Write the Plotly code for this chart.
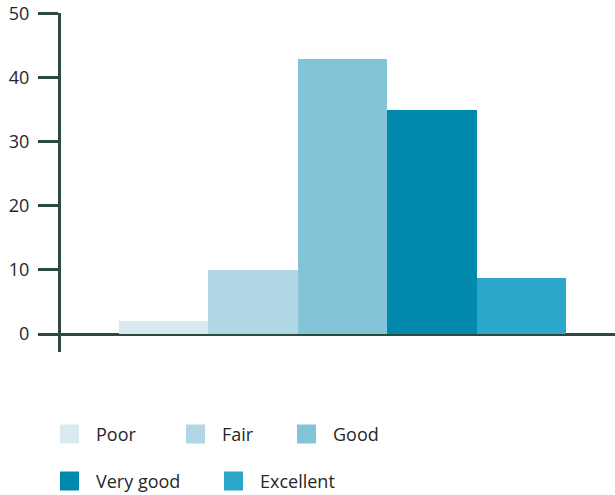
import plotly.graph_objects as go

categories = ["Poor", "Fair", "Good", "Very good", "Excellent"]
values = [2, 10, 43, 35, 8.8]
colors = ["#d9eaf2", "#b1d7e6", "#83c4d8", "#0089ad", "#2aa7c9"]
y_ticks = [0, 10, 20, 30, 40, 50]

AXIS = "#2c4a3f"
FONT = "Open Sans"

W, H = 615, 495
L, R, T, B = 61, 0, 13, 495 - 352
pw, ph = W - L - R, H - T - B

def px_x(px):
    return (px - L) / pw

def px_y(py):
    return (H - B - py) / ph

fig = go.Figure()
for i, (c, v, col) in enumerate(zip(categories, values, colors)):
    fig.add_trace(go.Bar(x=[i], y=[v], width=1, name=c, marker_color=col,
                         marker_line_width=0, showlegend=False))

# manual legend (squares + labels)
legend_pos = [(60, 434), (186, 434), (297, 434), (60, 481), (224, 481)]
for (c, col), (lx, ly) in zip(zip(categories, colors), legend_pos):
    fig.add_shape(type="rect", xref="paper", yref="paper",
                  x0=px_x(lx), x1=px_x(lx + 19), y0=px_y(ly - 9.5), y1=px_y(ly + 9.5),
                  fillcolor=col, line_width=0)
    fig.add_annotation(xref="paper", yref="paper", x=px_x(lx + 34), y=px_y(ly),
                       text=c, showarrow=False, xanchor="left", yanchor="middle",
                       font=dict(family=FONT, size=18, color="#262626"))

fig.update_layout(
    width=W, height=H,
    margin=dict(l=L, r=R, t=T, b=B, pad=0),
    plot_bgcolor="white", paper_bgcolor="white",
    barmode="overlay", bargap=0,
    showlegend=False,
    font=dict(family=FONT, size=18, color="#262626"),
    xaxis=dict(range=[-1.149, 5.048], visible=False, showgrid=False, zeroline=False),
    yaxis=dict(range=[-18 / 6.4, 50.15], tickvals=y_ticks, ticks="outside", ticklen=20,
               tickwidth=3, tickcolor=AXIS, showline=True, linecolor=AXIS, linewidth=3,
               showgrid=False, zeroline=True, zerolinecolor=AXIS, zerolinewidth=3,
               ticklabelstandoff=5, ticklabeloverflow="allow",
               tickfont=dict(family=FONT, size=18, color="#262626")),
)

fig.write_html("out.html", config={"displayModeBar": False},
               post_script="document.body.style.margin='0px';document.body.style.overflow='hidden';")
